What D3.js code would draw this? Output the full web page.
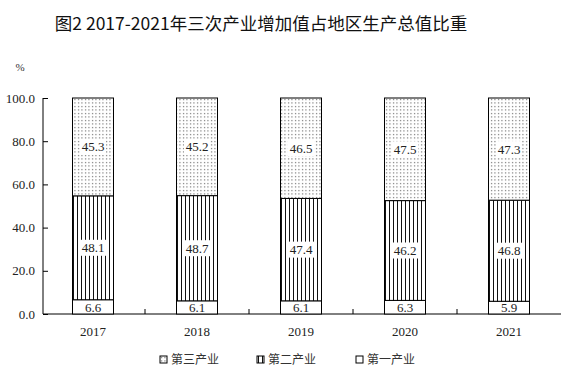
<!DOCTYPE html>
<meta charset="utf-8">
<style>
html, body { margin: 0; padding: 0; background: #fff; }
</style>
<body>
<script src="https://d3js.org/d3.v7.min.js"></script>
<script>

var width = 582,
    height = 375;

// data
var years = ["2017", "2018", "2019", "2020", "2021"];
var primary = [6.6, 6.1, 6.1, 6.3, 5.9];
var secondary = [48.1, 48.7, 47.4, 46.2, 46.8];
var tertiary = [45.3, 45.2, 46.5, 47.5, 47.3];
var seriesNames = ["第三产业", "第二产业", "第一产业"];
var yTicks = [0, 20, 40, 60, 80, 100];

var svg = d3.select("body").append("svg")
    .attr("width", width)
    .attr("height", height);

var defs = svg.append("defs");

var dots = defs.append("pattern")
    .attr("id", "dots")
    .attr("patternUnits", "userSpaceOnUse")
    .attr("width", 3.5).attr("height", 3.5);
dots.append("rect").attr("width", 3.5).attr("height", 3.5).attr("fill", "#fff");
dots.append("rect").attr("x", 1).attr("y", 1).attr("width", 1).attr("height", 1).attr("fill", "#333");

var vlines = defs.append("pattern")
    .attr("id", "vlines")
    .attr("patternUnits", "userSpaceOnUse")
    .attr("width", 4).attr("height", 4);
vlines.append("rect").attr("width", 4).attr("height", 4).attr("fill", "#fff");
vlines.append("rect").attr("x", 1).attr("width", 1).attr("height", 4).attr("fill", "#111");

var fills = ["url(#dots)", "url(#vlines)", "#fff"];

// title
svg.append("text")
    .attr("x", 261).attr("y", 30)
    .attr("text-anchor", "middle")
    .attr("font-family", "'Noto Sans CJK SC', sans-serif")
    .attr("font-size", 17.5)
    .attr("fill", "#111")
    .text("图2 2017-2021年三次产业增加值占地区生产总值比重");

var x = d3.scaleBand().domain(years).range([41, 561]);
var y = d3.scaleLinear().domain([0, 100]).range([314, 98]);
var barW = 41;

// y axis
var ya = svg.append("g")
    .attr("transform", "translate(43,0)")
    .call(d3.axisRight(y).tickValues(yTicks).tickSize(5).tickFormat(d3.format(".1f")));
ya.select(".domain").attr("d", "M0," + y(100) + "V" + y(0));
ya.selectAll("text")
    .attr("x", -8)
    .attr("text-anchor", "end")
    .attr("font-family", "'Liberation Serif', serif")
    .attr("font-size", 13)
    .attr("fill", "#222");

svg.append("text")
    .attr("x", 20).attr("y", 71)
    .attr("text-anchor", "middle")
    .attr("font-family", "'Liberation Serif', serif")
    .attr("font-size", 11)
    .attr("fill", "#333")
    .text("%");

// x axis
var xa = svg.append("g")
    .attr("transform", "translate(0,314)");
xa.append("line")
    .attr("x1", 43).attr("x2", 561)
    .attr("stroke", "#000");
xa.selectAll("line.tk")
    .data(years.slice(1))
    .enter().append("line")
    .attr("class", "tk")
    .attr("x1", function(d) { return x(d); })
    .attr("x2", function(d) { return x(d); })
    .attr("y1", 0).attr("y2", -5)
    .attr("stroke", "#000");
xa.selectAll("text")
    .data(years)
    .enter().append("text")
    .attr("x", function(d) { return x(d) + x.bandwidth() / 2; })
    .attr("y", 22)
    .attr("text-anchor", "middle")
    .attr("font-family", "'Liberation Serif', serif")
    .attr("font-size", 13)
    .attr("fill", "#222")
    .text(function(d) { return d; });

// stacked bars
var rows = years.map(function(yr, i) {
  return { year: yr, primary: primary[i], secondary: secondary[i], tertiary: tertiary[i] };
});
var stack = d3.stack().keys(["primary", "secondary", "tertiary"])(rows);
var fillOf = { primary: "#fff", secondary: "url(#vlines)", tertiary: "url(#dots)" };

var layers = svg.append("g").selectAll("g")
    .data(stack)
    .enter().append("g");

layers.selectAll("rect")
    .data(function(d) { return d.map(function(p) { p.key = d.key; return p; }); })
    .enter().append("rect")
    .attr("x", function(d) { return x(d.data.year) + (x.bandwidth() - barW) / 2; })
    .attr("y", function(d) { return y(d[1]); })
    .attr("width", barW)
    .attr("height", function(d) { return y(d[0]) - y(d[1]); })
    .attr("fill", function(d) { return fillOf[d.key]; })
    .attr("stroke", "#000")
    .attr("stroke-width", 1);

// value labels
var labels = svg.append("g").selectAll("g")
    .data(stack.flatMap(function(s) { return s; }))
    .enter().append("g")
    .attr("transform", function(d) {
      var cx = x(d.data.year) + x.bandwidth() / 2;
      var cy = d.key === "primary" ? y(d[0]) - 7 : (y(d[0]) + y(d[1])) / 2;
      return "translate(" + cx + "," + cy + ")";
    });
labels.filter(function(d) { return d.key !== "primary"; })
    .append("rect")
    .attr("x", -13).attr("y", -8)
    .attr("width", 26).attr("height", 16)
    .attr("fill", "#fff");
labels.append("text")
    .attr("y", 4.5)
    .attr("text-anchor", "middle")
    .attr("font-family", "'Liberation Serif', serif")
    .attr("font-size", 13)
    .attr("fill", "#222")
    .text(function(d) { return d.data[d.key].toFixed(1); });

// legend
var legX = [160, 257, 356];
var leg = svg.append("g").selectAll("g")
    .data(seriesNames)
    .enter().append("g")
    .attr("transform", function(d, i) { return "translate(" + legX[i] + ",356)"; });
leg.append("rect")
    .attr("width", 7).attr("height", 7)
    .attr("fill", function(d, i) { return fills[i]; })
    .attr("stroke", "#000");
leg.append("text")
    .attr("x", 11).attr("y", 8)
    .attr("font-family", "'Noto Sans CJK SC', serif")
    .attr("font-size", 12)
    .attr("fill", "#333")
    .text(function(d) { return d; });

</script>
</body>
